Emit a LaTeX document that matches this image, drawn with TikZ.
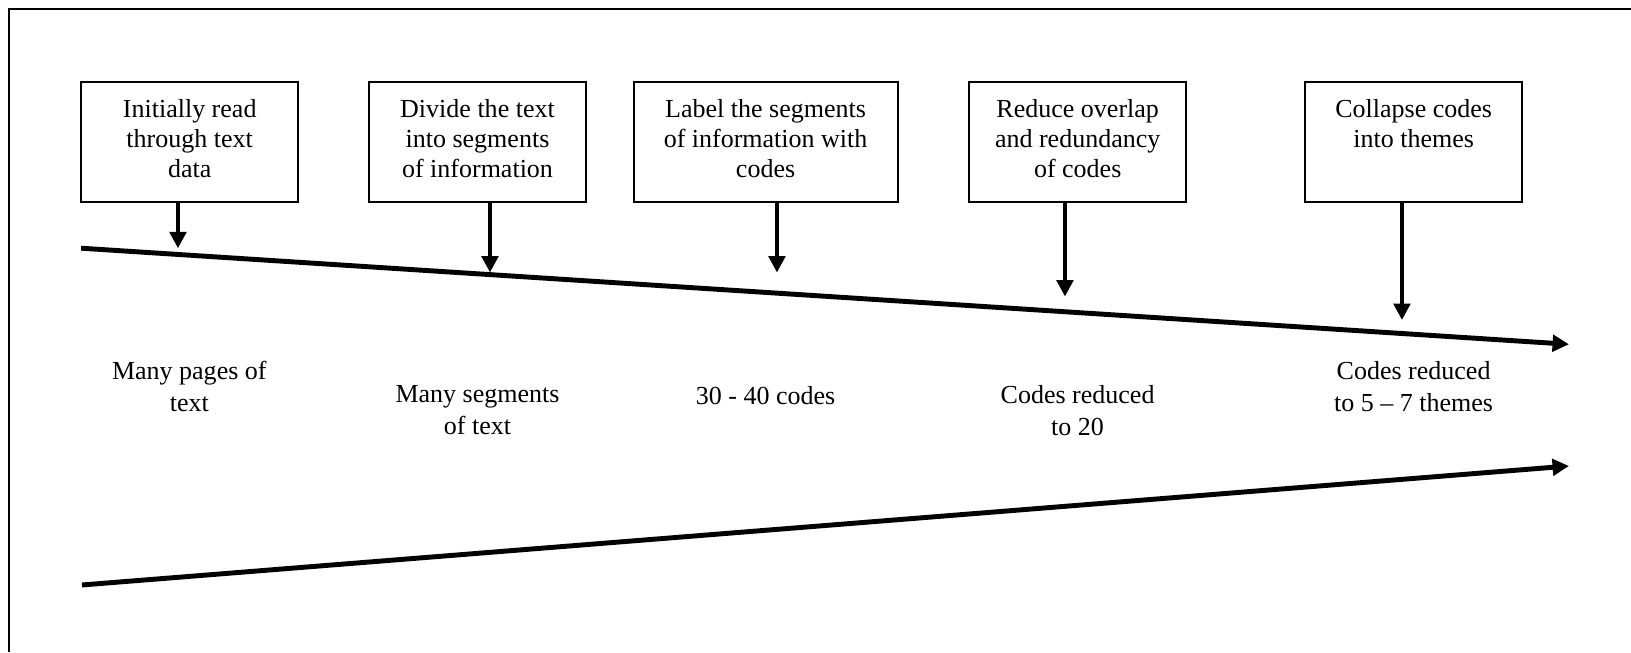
\documentclass[tikz,border=0pt]{standalone}
\usepackage{fontspec}
\setmainfont{Liberation Serif}
\usetikzlibrary{arrows.meta}

\begin{document}
\begin{tikzpicture}[scale=0.15,
	stepbox/.style={draw=black, line width=0.8pt, inner sep=0pt, anchor=north, text width=3.255cm, align=flush center, text height=15.2pt, text depth=36pt, font=\fontsize{11.1}{12.8}\selectfont},
	steplabel/.style={inner sep=0pt, align=center, font=\fontsize{11.1}{13.6}\selectfont},
	pointer/.style={draw=black, line width=1.7pt, -{Triangle[length=7pt,width=7pt]}},
	funnel/.style={draw=black, line width=2.1pt, -{Triangle[length=7pt,width=7pt]}}]
					\useasboundingbox (0,0) rectangle (163.1,-65.2);
					\draw [black, line width=0.8pt] (163.1,-0.9) -- (0.9,-0.9) -- (0.9,-65.2);
					\node [stepbox] (read) at (18.97,-8.1) {Initially read\\through text\\data};
					\node [stepbox] (divide) at (47.75,-8.1) {Divide the text\\into segments\\of information};
					\node [stepbox, text width=3.96cm] (codify) at (76.56,-8.1) {Label the segments\\of information with\\codes};
					\node [stepbox] (reduce) at (107.77,-8.1) {Reduce overlap\\and redundancy\\of codes};
					\node [stepbox] (collapse) at (141.37,-8.1) {Collapse codes\\into themes};
					\coordinate (t0) at (8.11,-24.82);
					\coordinate (t1) at (156.9,-34.43);
					\coordinate (u0) at (8.2,-58.5);
					\coordinate (u1) at (156.9,-46.6);
					\draw [funnel] (t0) -- (t1);
					\draw [funnel] (u0) -- (u1);
					\coordinate (p1) at (17.8,-24.83);
					\coordinate (p2) at (49.0,-27.25);
					\coordinate (p3) at (77.7,-27.25);
					\coordinate (p4) at (106.5,-29.65);
					\coordinate (p5) at (140.2,-32.0);
					\draw [pointer] (read.south -| p1) -- (p1);
					\draw [pointer] (divide.south -| p2) -- (p2);
					\draw [pointer] (codify.south -| p3) -- (p3);
					\draw [pointer] (reduce.south -| p4) -- (p4);
					\draw [pointer] (collapse.south -| p5) -- (p5);
					\node [steplabel] (pages) at (18.93,-38.64) {Many pages of\\text};
					\node [steplabel] (segments) at (47.75,-41.04) {Many segments\\of text};
					\node [steplabel] (codes) at (76.56,-39.53) {30 - 40 codes};
					\node [steplabel] (twenty) at (107.76,-41.04) {Codes reduced\\to 20};
					\node [steplabel] (themes) at (141.36,-38.64) {Codes reduced\\to 5 – 7 themes};
\end{tikzpicture}
\end{document}
